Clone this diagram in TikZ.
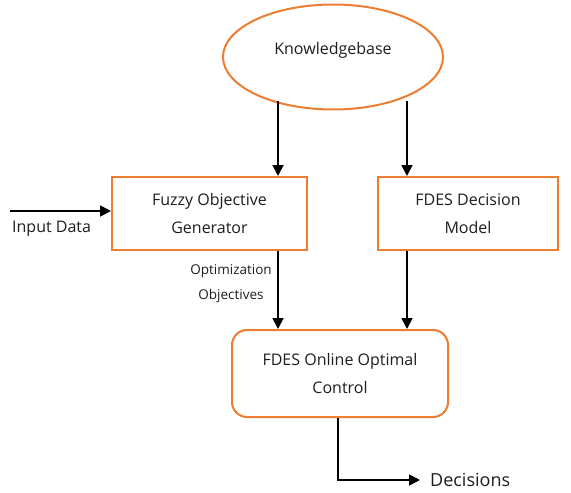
\documentclass[tikz,border=0pt]{standalone}
\usepackage{fontspec}
\setmainfont{Open Sans}
\usetikzlibrary{shapes.geometric,arrows.meta}
\definecolor{boxorange}{RGB}{237,125,49}
\definecolor{txt}{RGB}{30,30,30}
\begin{document}
\begin{tikzpicture}[x=1pt,y=-1pt,
  box/.style={draw=boxorange,line width=2pt,fill=white,align=center,text=txt,font=\fontsize{16}{28}\selectfont,inner sep=0pt},
  conn/.style={line width=1.8pt,-{Triangle[length=11pt,width=11pt]}},
  lbl/.style={text=txt,font=\fontsize{16}{16}\selectfont,inner sep=0pt}]
\useasboundingbox (0,0) rectangle (571,493);
\fill[white] (0,0) rectangle (571,493);
\node[box,ellipse,minimum width=220pt,minimum height=105pt] (kb) at (333,57) {\raisebox{3pt}[0pt][0pt]{Knowledgebase}};
\node[box,rectangle,minimum width=195pt,minimum height=73pt] (fog) at (209.5,213.5) {Fuzzy Objective\\Generator};
\node[box,rectangle,minimum width=180pt,minimum height=73pt] (ddm) at (468,213.5) {FDES Decision\\Model};
\node[box,rectangle,rounded corners=15pt,minimum width=216pt,minimum height=87pt] (ooc) at (340,373.5) {FDES Online Optimal\\Control};
\coordinate (k1) at (278,101);
\coordinate (k2) at (407,101);
\coordinate (in) at (10,211);
\coordinate (bend) at (338,480);
\coordinate (out) at (420,480);
\draw[conn] (k1) -- (k1 |- fog.north);
\draw[conn] (k2) -- (k2 |- ddm.north);
\draw[conn] (in) -- (fog.west |- in);
\draw[conn] (k1 |- fog.south) -- (k1 |- ooc.north);
\draw[conn] (k2 |- ddm.south) -- (k2 |- ooc.north);
\draw[conn] (ooc.south -| bend) -- (bend) -- (out);
\node[lbl,anchor=west] (inlbl) at (12,229) {Input Data};
\node[lbl,font=\fontsize{13.5}{16}\selectfont,align=center] (optlbl) at (231,284) {Optimization\\[9pt]Objectives};
\node[lbl,anchor=west,font=\fontsize{18}{18}\selectfont] (dec) at (430,480) {Decisions};
\end{tikzpicture}
\end{document}
